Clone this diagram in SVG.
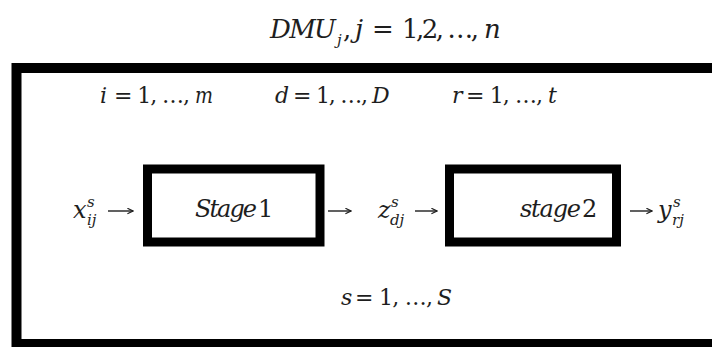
<svg xmlns="http://www.w3.org/2000/svg" width="712" height="347" viewBox="0 0 712 347">
<defs>
<style>
text{font-family:"DejaVu Serif","Liberation Serif",serif;fill:#1e1e1e;font-style:italic}
.up{font-style:normal}
.m{font-size:22px}
.big{font-size:26px}
.st{font-size:24px}
.sc{font-size:15px}
.box{fill:#fff;stroke:#000;stroke-width:9}
.outer{fill:#fff;stroke:#000;stroke-width:10}
.arr{stroke:#1e1e1e;stroke-width:1.4;fill:none;marker-end:url(#ah)}
</style>
<marker id="ah" viewBox="0 0 10 10" refX="9" refY="5" markerWidth="7" markerHeight="7" markerUnits="userSpaceOnUse" orient="auto">
<path d="M1,1 L9,5 L1,9" fill="none" stroke="#1e1e1e" stroke-width="1.6"/>
</marker>
</defs>
<rect width="712" height="347" fill="#fff"/>
<g id="title">
<text class="big" x="270" y="38" textLength="66" lengthAdjust="spacing">DMU</text>
<text class="sc" x="337" y="45">j</text>
<text class="big up" x="343" y="38">,</text>
<text class="big" x="355" y="38">j</text>
<text class="big up" x="372" y="38">=</text>
<text class="big up" x="402" y="38" textLength="77" lengthAdjust="spacing">1,2, …,</text>
<text class="big" x="484" y="38">n</text>
</g>
<g id="dmu">
<rect class="outer" x="16.5" y="68" width="710" height="276"/>
<text class="m" x="100" y="103">i</text>
<text class="m up" x="114" y="103" textLength="76" lengthAdjust="spacing">= 1, …,</text>
<text class="m" x="195" y="103" textLength="18" lengthAdjust="spacingAndGlyphs">m</text>
<text class="m" x="275" y="103">d</text>
<text class="m up" x="293" y="103" textLength="75" lengthAdjust="spacing">= 1, …,</text>
<text class="m" x="372" y="103">D</text>
<text class="m" x="452" y="103">r</text>
<text class="m up" x="466" y="103" textLength="77" lengthAdjust="spacing">= 1, …,</text>
<text class="m" x="548" y="103">t</text>
<text class="m" x="341" y="305">s</text>
<text class="m up" x="355" y="305" textLength="78" lengthAdjust="spacing">= 1, …,</text>
<text class="m" x="437" y="305">S</text>
</g>
<g id="input">
<text class="st" x="73" y="218">x</text>
<text class="sc" x="87" y="207">s</text>
<text class="sc" x="87" y="225">ij</text>
</g>
<g id="stage1">
<rect class="box" x="147.5" y="169" width="172.5" height="73"/>
<text class="st" x="195" y="217" textLength="62" lengthAdjust="spacing">Stage</text>
<text class="st up" x="258" y="217">1</text>
</g>
<g id="intermediate">
<text class="st" x="378" y="218">z</text>
<text class="sc" x="391" y="207">s</text>
<text class="sc" x="390" y="225">dj</text>
</g>
<g id="stage2">
<rect class="box" x="449.5" y="169" width="167" height="73"/>
<text class="st" x="520" y="217" textLength="61" lengthAdjust="spacing">stage</text>
<text class="st up" x="582" y="217">2</text>
</g>
<g id="output">
<text class="st" x="658" y="218">y</text>
<text class="sc" x="673" y="207">s</text>
<text class="sc" x="672" y="225">rj</text>
</g>
<g id="connectors">
<line class="arr" x1="108" y1="211" x2="133" y2="211"/>
<line class="arr" x1="328" y1="211" x2="351" y2="211"/>
<line class="arr" x1="415" y1="211" x2="437" y2="211"/>
<line class="arr" x1="630" y1="211" x2="652" y2="211"/>
</g>
</svg>
